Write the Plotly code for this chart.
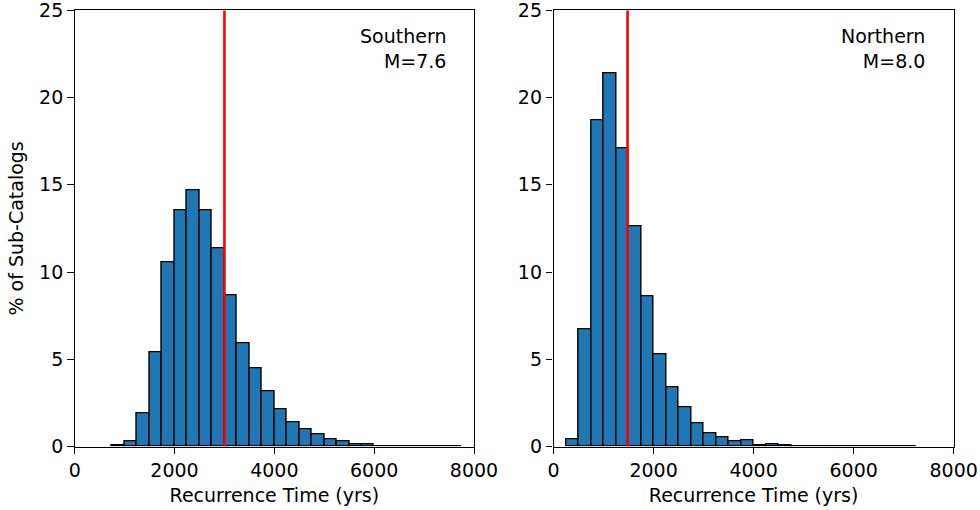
import plotly.graph_objects as go

# Histogram bins are 250 years wide
bin_width = 250

# Southern segment: % of sub-catalogs per bin, bins starting at 750 yrs
south_start = 750
south_pct = [0.05, 0.27, 1.9, 5.4, 10.57, 13.56, 14.66, 13.54, 11.38, 8.66,
             5.92, 4.5, 3.14, 2.15, 1.4, 0.96, 0.71, 0.44, 0.27, 0.15,
             0.11, 0.04, 0.02, 0.02, 0.02, 0.0, 0.02, 0.02]
south_obs = 3000
south_label = "Southern<br>M=7.6"

# Northern segment: % of sub-catalogs per bin, bins starting at 250 yrs
north_start = 250
north_pct = [0.44, 6.7, 18.72, 21.38, 17.08, 12.61, 8.63, 5.31, 3.4, 2.27,
             1.32, 0.73, 0.53, 0.29, 0.34, 0.06, 0.12, 0.05, 0.03, 0.0,
             0.02, 0.02, 0.02, 0.0, 0.0, 0.0, 0.0, 0.02]
north_obs = 1480
north_label = "Northern<br>M=8.0"

x_ticks = [0, 2000, 4000, 6000, 8000]
y_ticks = [0, 5, 10, 15, 20, 25]
x_title = "Recurrence Time (yrs)"
y_title = "% of Sub-Catalogs"

FONT = "DejaVu Sans"
FS = 19
BAR_COLOR = "#1f77b4"


def centers(start, values):
    return [start + bin_width * (i + 0.5) for i in range(len(values))]


fig = go.Figure()

panels = [
    (south_start, south_pct, south_obs, south_label, "x", "y"),
    (north_start, north_pct, north_obs, north_label, "x2", "y2"),
]

for start, pct, obs, label, xa, ya in panels:
    fig.add_trace(go.Bar(
        x=centers(start, pct), y=pct, width=bin_width,
        marker=dict(color=BAR_COLOR, line=dict(color="black", width=1.4)),
        xaxis=xa, yaxis=ya, showlegend=False, hoverinfo="x+y",
    ))
    fig.add_trace(go.Scatter(
        x=[obs, obs], y=[0, 25], mode="lines",
        line=dict(color="red", width=2.6),
        xaxis=xa, yaxis=ya, showlegend=False, hoverinfo="skip",
    ))
    fig.add_annotation(
        text=label, xref=f"{xa} domain", yref=f"{ya} domain",
        x=0.934, y=0.972, xanchor="right", yanchor="top", align="right",
        showarrow=False, font=dict(family=FONT, size=FS, color="black"),
    )

axis_common = dict(
    showline=True, mirror=True, linecolor="black", linewidth=1.3,
    ticks="outside", ticklen=6.5, tickwidth=1.3, tickcolor="black",
    showgrid=False, zeroline=False, automargin=False,
    ticklabeloverflow="allow",
    tickfont=dict(family=FONT, size=FS, color="black"),
)

x_dom1 = [74.7 / 980, 474.0 / 980]
x_dom2 = [553.5 / 980, 953.7 / 980]
y_dom = [1 - 446.5 / 510, 1 - 10.3 / 510]

fig.update_layout(
    width=980, height=510,
    margin=dict(l=0, r=0, t=0, b=0),
    paper_bgcolor="white", plot_bgcolor="white",
    bargap=0,
    font=dict(family=FONT, size=FS, color="black"),
    xaxis=dict(axis_common, domain=x_dom1, range=[0, 8000], tickvals=x_ticks,
               title=dict(text=x_title, standoff=8,
                          font=dict(family=FONT, size=FS))),
    yaxis=dict(axis_common, domain=y_dom, range=[0, 25], tickvals=y_ticks,
               title=dict(text=y_title, standoff=10,
                          font=dict(family=FONT, size=FS))),
    xaxis2=dict(axis_common, domain=x_dom2, range=[0, 8000], tickvals=x_ticks,
                anchor="y2",
                title=dict(text=x_title, standoff=8,
                           font=dict(family=FONT, size=FS))),
    yaxis2=dict(axis_common, domain=y_dom, range=[0, 25], tickvals=y_ticks,
                anchor="x2"),
)

fig.write_html("out.html")
